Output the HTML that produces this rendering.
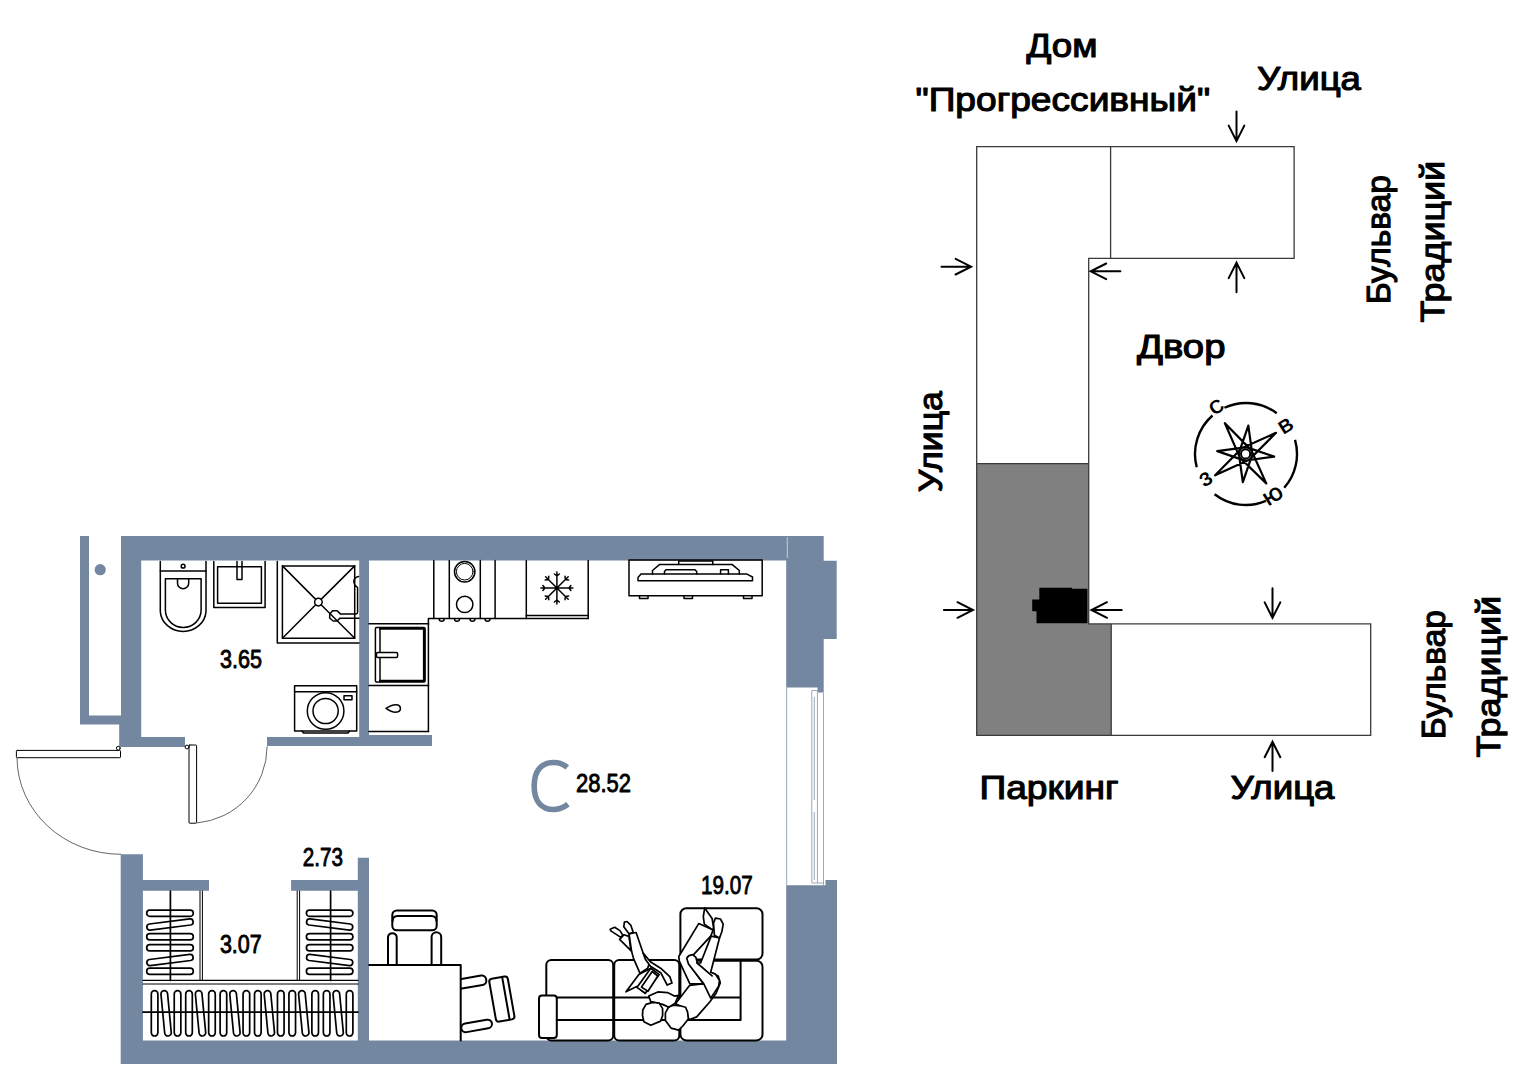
<!DOCTYPE html>
<html><head><meta charset="utf-8">
<style>
html,body{margin:0;padding:0;background:#fff;width:1538px;height:1080px;overflow:hidden}
svg{position:absolute;left:0;top:0;display:block}
text{font-family:"Liberation Sans",sans-serif;font-weight:bold;fill:#000}
text.m{font-weight:normal;stroke:#000;stroke-linejoin:round}
</style></head><body>
<svg width="1538" height="1080" viewBox="0 0 1538 1080">
<path d="M80,536 H89 V724.5 H80 Z M80,715.5 H121 V724.5 H80 Z M121,536 H823.5 V560.5 H121 Z M121,536 H141.2 V747 H121 Z M119.2,724 H141.2 V747 H119.2 Z M119.2,737 H185 V747 H119.2 Z M267,737 H359.2 V746 H267 Z M359.2,559 H369 V746 H359.2 Z M369,735 H432 V746 H369 Z M786.2,536 H823.7 V687.4 H786.2 Z M817.5,536 H823.7 V692.5 H817.5 Z M823.5,560.7 H836.7 V639.1 H823.5 Z M786.2,885.2 H837 V1064 H786.2 Z M825.5,880 H837 V886 H825.5 Z M120.7,1040.4 H837 V1064 H120.7 Z M120.7,854.3 H142.9 V1064 H120.7 Z M142.9,880 H209 V890.8 H142.9 Z M291.1,880 H358 V890.8 H291.1 Z M357.8,857.8 H369 V1041 H357.8 Z" fill="#7387A0"/>
<circle cx="100.2" cy="569.7" r="5.6" fill="#7387A0"/>
<g fill="none" stroke="#000" stroke-width="1.5" stroke-linejoin="round" stroke-linecap="round" >
<path d="M160.3,561.5 V611.6 A22.9,21.2 0 0 0 206,611.6 V561.5" />
<path d="M160.3,571 H206" />
<path d="M165.4,578.7 H201.1 V610 A17.85,17.5 0 0 1 165.4,610 Z" />
<path d="M177.5,578.7 V583 A5.6,5.8 0 0 0 188.7,583 V578.7" />
<circle cx="183.1" cy="566.2" r="1.9" />
<path d="M213.8,561.5 V607.4 H265.1 V561.5" />
<rect x="217.6" y="566.7" width="43.8" height="36.5" rx="0" />
<path d="M237,561.5 V579.5 H242 V561.5" />
<path d="M277.3,561.5 V643 H359" />
<rect x="282.4" y="565.9" width="72.3" height="72.3" rx="0" />
<path d="M282.4,565.9 L315.7,599.4 M321.1,604.8 L354.7,638.2 M354.7,565.9 L321.1,599.4 M315.7,604.8 L282.4,638.2" />
<circle cx="318.4" cy="602.1" r="3.8" />
<path d="M332.6,610.8 H337.2 L340.3,613.9 H356 Q357.6,613.9 357.6,612.3 V587.5 L355.5,585.8" />
<path d="M339.8,618.2 H358.9 M339.8,618.2 L337.2,621 H333.2 L329.6,618 L329.8,613.9 L332.6,610.8" />
<path d="M358.6,576.6 Q354,577.5 353.8,581.5 Q354.2,584.5 355.5,585.8" />
<rect x="294.6" y="685.8" width="62.1" height="45.2" rx="0" />
<path d="M294.6,691.7 H356.7" />
<circle cx="325.6" cy="711" r="18.3" />
<circle cx="325.6" cy="711" r="12.6" />
<rect x="344" y="695.8" width="8" height="4.0" rx="0" />
<path d="M302,731 L303.5,733 H348 L349.5,731" />
</g>
<g fill="none" stroke="#000" stroke-width="1.5" stroke-linejoin="round" stroke-linecap="round" >
<path d="M433.8,560.5 V618.5 M449.3,560.5 V618.5 M480.3,560.5 V618.5 M495.1,560.5 V618.5 M526.3,560.5 V618.5 M588.2,560.5 V618.5" />
<path d="M428.4,731.5 V618.5 H588.2" />
<path d="M526.3,615.5 H588.2" />
<circle cx="464.7" cy="571.7" r="10.2" />
<circle cx="464.7" cy="571.7" r="8.3" stroke-width="1"/>
<circle cx="464.7" cy="604.4" r="8.2" />
<path d="M439.2,619 A2.5,2.3 0 0 0 444.2,619" />
<path d="M454.5,619 A2.5,2.3 0 0 0 459.5,619" />
<path d="M470.0,619 A2.5,2.3 0 0 0 475.0,619" />
<path d="M485.0,619 A2.5,2.3 0 0 0 490.0,619" />
<path d="M556.9,588.0 L572.9,588.0 M568.9,588.0 L570.9,585.5 M568.9,588.0 L570.9,590.5 M556.9,588.0 L568.2,599.3 M565.4,596.5 L568.6,596.1 M565.4,596.5 L565.0,599.7 M556.9,588.0 L556.9,604.0 M556.9,600.0 L559.4,602.0 M556.9,600.0 L554.4,602.0 M556.9,588.0 L545.6,599.3 M548.4,596.5 L548.8,599.7 M548.4,596.5 L545.2,596.1 M556.9,588.0 L540.9,588.0 M544.9,588.0 L542.9,590.5 M544.9,588.0 L542.9,585.5 M556.9,588.0 L545.6,576.7 M548.4,579.5 L545.2,579.9 M548.4,579.5 L548.8,576.3 M556.9,588.0 L556.9,572.0 M556.9,576.0 L554.4,574.0 M556.9,576.0 L559.4,574.0 M556.9,588.0 L568.2,576.7 M565.4,579.5 L565.0,576.3 M565.4,579.5 L568.6,579.9 " />
<path d="M369,623.8 H428.6 M369,685.4 H428.6 M369,731.5 H428.6" />
<rect x="375.4" y="627.5" width="49.7" height="54.5" rx="1.2" />
<path d="M380,627.5 V682" />
<path d="M380,628.6 H424 V680.9 H380" stroke-width="2.2"/>
<rect x="376.5" y="652.5" width="21.1" height="4.9" rx="1.2" fill="#fff"/>
<path d="M386,708.4 Q393,703.5 398,705 A3.6,3.6 0 0 1 398,711.8 Q393,713.3 386,708.4 Z" />
</g>
<g fill="none" stroke="#000" stroke-width="1.5" stroke-linejoin="round" stroke-linecap="round" >
<rect x="629" y="559.9" width="133.2" height="35.9" rx="0" />
<path d="M639.5,596 V598.6 H648 V596 M684,596 V598.6 H692.5 V596 M743.5,596 V598.6 H752 V596" />
<path d="M641,574.1 H747 L752.5,577 V580.7 H638 V577.5 Z" />
<path d="M652.5,574 V570.5 L659.7,564.4 H732 L739.3,570.5 V574" />
<path d="M664.5,574 V571.5 L666,569.8 H695 L696.7,571.5 V574" />
<path d="M720.6,574 V569.8 H728.4 V574" />
<path d="M678.7,564.4 V561 H712.8 V564.4" />
</g>
<g fill="none" stroke="#000" stroke-width="1.0" stroke-linejoin="round" stroke-linecap="round" >
<rect x="16.4" y="750.4" width="104.1" height="7.3" rx="0.8" />
<circle cx="118.3" cy="748.2" r="1.9" fill="#fff"/>
<rect x="189" y="745" width="7.6" height="78.2" rx="0.8" />
<circle cx="187" cy="747" r="1.9" fill="#fff"/>
</g>
<g fill="none" stroke="#555" stroke-width="0.9">
<path d="M17,757.7 A104,97 0 0 0 121,854.3" />
<path d="M196.6,823 A77,77 0 0 0 267.1,746.4" />
</g>
<g fill="none" stroke="#000" stroke-width="1.7" stroke-linejoin="round" stroke-linecap="round" >
<path d="M170.4,891 V980.4 M330.6,891 V980.4" />
<path d="M200,891 V980.4 M202.4,891 V980.4 M297.2,891 V980.4 M299.6,891 V980.4" stroke-width="1"/>
<path d="M149.80,916.40 L190.20,916.40 A3.1,3.1 0 0 0 190.20,910.20 L149.80,910.20 A3.1,3.1 0 0 0 149.80,916.40 Z" />
<path d="M309.50,916.40 L349.80,916.40 A3.1,3.1 0 0 0 349.80,910.20 L309.50,910.20 A3.1,3.1 0 0 0 309.50,916.40 Z" />
<path d="M150.20,930.17 L190.60,924.97 A3.1,3.1 0 0 0 189.80,918.83 L149.40,924.03 A3.1,3.1 0 0 0 150.20,930.17 Z" />
<path d="M350.20,924.03 L309.90,918.83 A3.1,3.1 0 0 0 309.10,924.97 L349.40,930.17 A3.1,3.1 0 0 0 350.20,924.03 Z" />
<path d="M149.80,939.80 L190.20,939.80 A3.1,3.1 0 0 0 190.20,933.60 L149.80,933.60 A3.1,3.1 0 0 0 149.80,939.80 Z" />
<path d="M309.50,939.80 L349.80,939.80 A3.1,3.1 0 0 0 349.80,933.60 L309.50,933.60 A3.1,3.1 0 0 0 309.50,939.80 Z" />
<path d="M149.80,950.90 L190.20,950.90 A3.1,3.1 0 0 0 190.20,944.70 L149.80,944.70 A3.1,3.1 0 0 0 149.80,950.90 Z" />
<path d="M309.50,950.90 L349.80,950.90 A3.1,3.1 0 0 0 349.80,944.70 L309.50,944.70 A3.1,3.1 0 0 0 309.50,950.90 Z" />
<path d="M150.20,965.67 L190.60,960.47 A3.1,3.1 0 0 0 189.80,954.33 L149.40,959.53 A3.1,3.1 0 0 0 150.20,965.67 Z" />
<path d="M350.20,959.53 L309.90,954.33 A3.1,3.1 0 0 0 309.10,960.47 L349.40,965.67 A3.1,3.1 0 0 0 350.20,959.53 Z" />
<path d="M149.80,974.40 L190.20,974.40 A3.1,3.1 0 0 0 190.20,968.20 L149.80,968.20 A3.1,3.1 0 0 0 149.80,974.40 Z" />
<path d="M309.50,974.40 L349.80,974.40 A3.1,3.1 0 0 0 349.80,968.20 L309.50,968.20 A3.1,3.1 0 0 0 309.50,974.40 Z" />
<path d="M143,980.4 H358 M143,984 H358" stroke-width="1.2"/>
<path d="M143,1012.2 H358" />
<path d="M151.30,994.00 L151.30,1032.70 A3.3,3.3 0 0 0 157.90,1032.70 L157.90,994.00 A3.3,3.3 0 0 0 151.30,994.00 Z" />
<path d="M160.98,994.31 L164.68,1033.01 A3.3,3.3 0 0 0 171.26,1032.39 L167.56,993.69 A3.3,3.3 0 0 0 160.98,994.31 Z" />
<path d="M174.24,994.00 L174.24,1032.70 A3.3,3.3 0 0 0 180.84,1032.70 L180.84,994.00 A3.3,3.3 0 0 0 174.24,994.00 Z" />
<path d="M185.71,994.00 L185.71,1032.70 A3.3,3.3 0 0 0 192.31,1032.70 L192.31,994.00 A3.3,3.3 0 0 0 185.71,994.00 Z" />
<path d="M195.39,994.31 L199.09,1033.01 A3.3,3.3 0 0 0 205.67,1032.39 L201.97,993.69 A3.3,3.3 0 0 0 195.39,994.31 Z" />
<path d="M208.65,994.00 L208.65,1032.70 A3.3,3.3 0 0 0 215.25,1032.70 L215.25,994.00 A3.3,3.3 0 0 0 208.65,994.00 Z" />
<path d="M220.12,994.00 L220.12,1032.70 A3.3,3.3 0 0 0 226.72,1032.70 L226.72,994.00 A3.3,3.3 0 0 0 220.12,994.00 Z" />
<path d="M229.80,994.31 L233.50,1033.01 A3.3,3.3 0 0 0 240.08,1032.39 L236.38,993.69 A3.3,3.3 0 0 0 229.80,994.31 Z" />
<path d="M243.06,994.00 L243.06,1032.70 A3.3,3.3 0 0 0 249.66,1032.70 L249.66,994.00 A3.3,3.3 0 0 0 243.06,994.00 Z" />
<path d="M254.53,994.00 L254.53,1032.70 A3.3,3.3 0 0 0 261.13,1032.70 L261.13,994.00 A3.3,3.3 0 0 0 254.53,994.00 Z" />
<path d="M264.21,994.31 L267.91,1033.01 A3.3,3.3 0 0 0 274.49,1032.39 L270.79,993.69 A3.3,3.3 0 0 0 264.21,994.31 Z" />
<path d="M277.47,994.00 L277.47,1032.70 A3.3,3.3 0 0 0 284.07,1032.70 L284.07,994.00 A3.3,3.3 0 0 0 277.47,994.00 Z" />
<path d="M288.94,994.00 L288.94,1032.70 A3.3,3.3 0 0 0 295.54,1032.70 L295.54,994.00 A3.3,3.3 0 0 0 288.94,994.00 Z" />
<path d="M298.62,994.31 L302.32,1033.01 A3.3,3.3 0 0 0 308.90,1032.39 L305.20,993.69 A3.3,3.3 0 0 0 298.62,994.31 Z" />
<path d="M311.88,994.00 L311.88,1032.70 A3.3,3.3 0 0 0 318.48,1032.70 L318.48,994.00 A3.3,3.3 0 0 0 311.88,994.00 Z" />
<path d="M323.35,994.00 L323.35,1032.70 A3.3,3.3 0 0 0 329.95,1032.70 L329.95,994.00 A3.3,3.3 0 0 0 323.35,994.00 Z" />
<path d="M333.03,994.31 L336.73,1033.01 A3.3,3.3 0 0 0 343.31,1032.39 L339.61,993.69 A3.3,3.3 0 0 0 333.03,994.31 Z" />
<path d="M346.29,994.00 L346.29,1032.70 A3.3,3.3 0 0 0 352.89,1032.70 L352.89,994.00 A3.3,3.3 0 0 0 346.29,994.00 Z" />
</g>
<g fill="none" stroke="#000" stroke-width="2.0" stroke-linejoin="round" stroke-linecap="round" >
<g transform="translate(501.9,999.3) rotate(-10)">
<rect x="-45" y="-27" width="33" height="9.5" rx="4.5" />
<rect x="-45" y="17.5" width="31" height="8.7" rx="4.5" />
<rect x="-9.4" y="-22" width="18.8" height="43.5" rx="3" />
<path d="M4.1,-21.8 V21.3" />
</g>
<path d="M369.2,965.1 H460.7 V1040.4" fill="#fff"/>
<rect x="392.3" y="910.4" width="44.4" height="19.9" rx="4.5" />
<path d="M392.6,921 Q392.6,916 397.6,916 H431.4 Q436.4,916 436.4,921" />
<path d="M388,965 V937 A4.4,4.4 0 0 1 396.7,937 V965 M431.6,965 V937 A4.8,4.8 0 0 1 441.2,937 V965" />
</g>
<g fill="none" stroke="#000" stroke-width="2.0" stroke-linejoin="round" stroke-linecap="round" >
<rect x="546.3" y="959.9" width="66.9" height="80.5" rx="5" />
<rect x="614.2" y="959.9" width="65.1" height="80.5" rx="5" />
<rect x="680.4" y="908.2" width="82.1" height="51.4" rx="6" />
<rect x="680.4" y="960.7" width="82.1" height="79.7" rx="6" />
<rect x="539" y="995.4" width="17.8" height="42.6" rx="3" fill="#fff"/>
<path d="M556.8,997.6 H740.6 V959.9 M556.8,1020.1 H740.6 V997.6" />
</g>
<g fill="#fff" stroke="#000" stroke-width="1.7" stroke-linejoin="round" stroke-linecap="round">
<path d="M675.5,1003.8 L689.7,985.3 L704,983.6 L710.6,972.2 L718.2,976 L720.3,982.9 L716.1,993.3 L709.9,1001.7 L696.7,1016.9 L689,1019.7 L685.6,1008.6 Z" />
<path d="M698.7,923.6 L713.1,930.1 L710.7,936.1 L693.6,954.6 L687.6,956.7 L689,963.9 L703.3,983.8 L689.9,983.8 L679.3,961.1 L678.8,956.5 Z" />
<path d="M711.2,936.1 L719.5,938 L710.7,972.2 L715.4,974.1 L719.5,980.6 L718.6,986.1 L714.4,992.6 L710.7,998.1 L703.8,983.8 L688.5,963.9 L686.7,958.3 L689,955.6 L692.7,954.6 L695.9,957.4 L697.3,963 L700.6,963 Z" />
<path d="M697,963 L712.1,975.9" fill="none"/>
<path d="M704.7,907.9 L712.1,918.5 L713.5,926.9 L713.1,930.1 L704.3,924.1 L703.3,916.7 Z" />
<path d="M715.4,918.1 L720.5,919 L723.2,924.1 L721.9,931.5 L719.5,938 L714.4,935.2 L713.5,923.1 Z" />
<path d="M665.4,1012.8 L668.9,1006.5 L674.4,1005.1 L680,1005.8 L685.6,1007.2 L687.6,1012.1 L688.3,1019 L682.8,1026 L678.6,1030.1 L671,1028.1 L665.4,1020.4 Z" />
<path d="M619.6,939.3 L623.8,934.8 L629,936.4 L630.9,950.6 Z" />
<path d="M629,933.8 L636.1,932.5 L643.2,953.2 L649.7,961.7 L647.8,968.1 L640,973.3 L633.5,958.4 L631.6,951.3 Z" />
<path d="M610.2,929.3 L614.7,927.3 L619.9,930.6 L622.8,935.1 L620.9,937.4 L610.8,930.9 Z" />
<path d="M624.4,922.1 L627,921.5 L630.9,925.4 L633.2,932.2 L629,933.8 L623.8,926.7 Z" />
<path d="M643.2,953.2 L650.4,961.7 L661.4,968.8 L669.8,976.6 L672,983 L667.2,985 L660.7,972.7 L650.4,966.3 L645.2,959.1 Z" />
<path d="M648.75,996.1 L657.8,991.9 L667.5,992.6 L674.4,996.1 L678.6,995.4 L675.1,1003.1 L668.9,1007.2 L662.6,1004.4 L650.8,1001.7 Z" />
<path d="M626,991.8 L638.9,974.6 L650.8,968.3 L645.3,993.3 L636.7,986.6 Z" />
<path d="M636.9,987.4 L650.8,968.3 L659.2,974.6 L645.3,993.3 Z" />
<path d="M641.5,987.1 L652.2,971.5 L657.8,976 L648,991.25 Z" />
<path d="M642.8,1010 L646,1004.4 L652.9,1002.4 L659.2,1003.1 L662.6,1008.6 L662.6,1015.6 L660.6,1021.1 L650.8,1025.3 L643.9,1021.8 L642.5,1015.6 Z" />
</g>
<g fill="none" stroke="#9aa8bb" stroke-width="1">
<path d="M786.7,687.4 V885.2 M823.5,692.5 V885 M811.8,690.5 V883 M817.4,690.5 V883" />
<path d="M814.3,697 V800 M814.3,812 V880" />
<path d="M811.8,690.5 H817.4 M811.8,883 H823.5" />
</g>
<line x1="787.3" y1="537" x2="787.3" y2="558" stroke="#c4cdd8" stroke-width="1"/>
<text class="m" x="220" y="667.9" font-size="25.5" textLength="42" lengthAdjust="spacingAndGlyphs" stroke-width="0.9">3.65</text>
<text class="m" x="576" y="792" font-size="25.5" textLength="55" lengthAdjust="spacingAndGlyphs" stroke-width="0.9">28.52</text>
<text class="m" x="302.8" y="865.8" font-size="25.5" textLength="40.2" lengthAdjust="spacingAndGlyphs" stroke-width="0.9">2.73</text>
<text class="m" x="219.9" y="952.5" font-size="25.5" textLength="41.9" lengthAdjust="spacingAndGlyphs" stroke-width="0.9">3.07</text>
<text class="m" x="701" y="893.6" font-size="25.5" textLength="51.8" lengthAdjust="spacingAndGlyphs" stroke-width="0.9">19.07</text>
<path d="M567.3,767.4 C563.2,764 558.6,762.5 553.9,762.5 C541.1,762.5 534.2,770.9 534.2,786 C534.2,801.1 541.1,809.5 553.9,809.5 C558.8,809.5 563.6,807.6 568,804.3" fill="none" stroke="#7387A0" stroke-width="5.6"/>
<path d="M976.7,463.7 H1088.3 V623.9 H1111.2 V735.4 H976.7 Z" fill="#808080"/>
<g fill="none" stroke="#3a3a3a" stroke-width="1.3">
<path d="M976.7,146.7 H1294.1 V258.3 H1088.7 V623.9 H1370.7 V735.4 H976.7 Z" />
<path d="M1110.6,146.7 V258.3" />
<path d="M976.7,463.7 H1088.3" />
<path d="M1111.2,623.9 V735.4" />
</g>
<path d="M1039.3,587.8 H1072 V588.7 H1087.4 V623.3 H1036.5 V611.3 H1032.2 V599.6 H1039.3 Z" fill="#000"/>
<g fill="none" stroke="#000" stroke-width="2" stroke-linecap="round" stroke-linejoin="miter">
<path d="M941.5,266.7 L971.1,266.7 M955.6,274.5 L971.1,266.7 L955.6,258.9" />
<path d="M1120.4,271.3 L1090.7,271.3 M1106.2,263.5 L1090.7,271.3 L1106.2,279.1" />
<path d="M1236.5,111.5 L1236.5,141.1 M1228.7,125.6 L1236.5,141.1 L1244.3,125.6" />
<path d="M1236.5,292.2 L1236.5,262.6 M1244.3,278.1 L1236.5,262.6 L1228.7,278.1" />
<path d="M943.9,610.0 L973.0,610.0 M957.5,617.8 L973.0,610.0 L957.5,602.2" />
<path d="M1121.7,610.0 L1091.5,610.0 M1107.0,602.2 L1091.5,610.0 L1107.0,617.8" />
<path d="M1272.5,588.3 L1272.5,617.9 M1264.7,602.4 L1272.5,617.9 L1280.3,602.4" />
<path d="M1272.5,771.0 L1272.5,741.7 M1280.3,757.2 L1272.5,741.7 L1264.7,757.2" />
</g>
<text class="m" x="1026.5" y="56.9" font-size="34" textLength="71.0" lengthAdjust="spacingAndGlyphs" stroke-width="1.15">Дом</text>
<text class="m" x="915.5" y="111.1" font-size="34" textLength="294.7" lengthAdjust="spacingAndGlyphs" stroke-width="1.15">&quot;Прогрессивный&quot;</text>
<text class="m" x="1257" y="89.6" font-size="34" textLength="104" lengthAdjust="spacingAndGlyphs" stroke-width="1.15">Улица</text>
<text class="m" x="1137" y="357.6" font-size="34" textLength="88.5" lengthAdjust="spacingAndGlyphs" stroke-width="1.15">Двор</text>
<text class="m" x="979.5" y="799" font-size="34" textLength="139.0" lengthAdjust="spacingAndGlyphs" stroke-width="1.15">Паркинг</text>
<text class="m" x="1230.5" y="799" font-size="34" textLength="104.0" lengthAdjust="spacingAndGlyphs" stroke-width="1.15">Улица</text>
<text class="m" x="0" y="0" font-size="34" textLength="101.1" lengthAdjust="spacingAndGlyphs" stroke-width="1.15" transform="translate(942,492.2) rotate(-90)">Улица</text>
<text class="m" x="0" y="0" font-size="34" textLength="129.2" lengthAdjust="spacingAndGlyphs" stroke-width="1.15" transform="translate(1389.8,304.2) rotate(-90)">Бульвар</text>
<text class="m" x="0" y="0" font-size="34" textLength="161.7" lengthAdjust="spacingAndGlyphs" stroke-width="1.15" transform="translate(1444,322.5) rotate(-90)">Традиций</text>
<text class="m" x="0" y="0" font-size="34" textLength="129.2" lengthAdjust="spacingAndGlyphs" stroke-width="1.15" transform="translate(1445.3,739.2) rotate(-90)">Бульвар</text>
<text class="m" x="0" y="0" font-size="34" textLength="161.7" lengthAdjust="spacingAndGlyphs" stroke-width="1.15" transform="translate(1499.8,757.5) rotate(-90)">Традиций</text>
<g fill="none" stroke="#000" stroke-width="2.4" stroke-linecap="butt">
<path d="M1224.45,407.78 A51,51 0 0 1 1276.69,413.27 M1295.02,439.94 A51,51 0 0 1 1284.20,487.79 M1265.93,500.95 A51,51 0 0 1 1214.60,494.19 M1196.74,467.20 A51,51 0 0 1 1212.54,415.51" />
</g>
<path d="M1224.91,423.23 L1240.24,458.40 M1224.91,423.23 L1251.78,450.61 M1248.33,425.53 L1238.60,453.96 M1248.33,425.53 L1252.46,455.30 M1276.02,432.84 L1241.04,448.59 M1276.02,432.84 L1248.96,460.04 M1274.17,456.65 L1245.54,446.90 M1274.17,456.65 L1244.20,460.76 M1266.25,483.39 L1250.88,449.31 M1266.25,483.39 L1239.48,457.29 M1242.83,482.16 L1252.60,453.85 M1242.83,482.16 L1238.74,452.49 M1215.13,475.24 L1250.19,459.18 M1215.13,475.24 L1242.21,447.78 M1217.24,451.12 L1245.65,460.90 M1217.24,451.12 L1247.01,447.04 " fill="none" stroke="#000" stroke-width="2.2" stroke-linecap="round"/>
<circle cx="1245.6" cy="453.9" r="4.6" fill="#fff" stroke="#000" stroke-width="2"/>
<text x="0" y="0" font-size="19" text-anchor="middle" transform="translate(1216.1,406.7) rotate(-32)" dy="6.8">С</text>
<text x="0" y="0" font-size="19" text-anchor="middle" transform="translate(1285.6,425.6) rotate(-32)" dy="6.8">В</text>
<text x="0" y="0" font-size="19" text-anchor="middle" transform="translate(1273.3,495.6) rotate(-32)" dy="6.8">Ю</text>
<text x="0" y="0" font-size="19" text-anchor="middle" transform="translate(1205.6,478.9) rotate(-32)" dy="6.8">З</text>
</svg>
</body></html>
